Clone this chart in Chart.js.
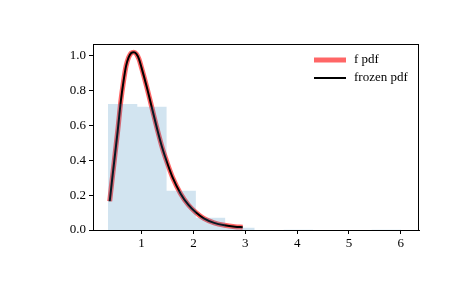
<!DOCTYPE html>
<html lang="en">
<head>
    <meta charset="UTF-8">
    <title>f distribution pdf</title>
    <script src="https://cdn.jsdelivr.net/npm/chart.js@4.4.1/dist/chart.umd.min.js"></script>
    <style>
        body {
            margin: 0;
            background: #fff;
        }
        #chart-container {
            width: 465px;
            height: 288px;
        }
    </style>
</head>
<body>
    <div id="chart-container">
        <canvas id="fChart"></canvas>
    </div>

    <script>
        // pdf curve (x, density)
        const pdfX = [0.385, 0.44, 0.49, 0.54, 0.60, 0.65, 0.70, 0.75, 0.80, 0.85, 0.90, 0.95, 1.00,
                      1.10, 1.20, 1.30, 1.40, 1.50, 1.60, 1.75, 1.90, 2.05, 2.20, 2.40, 2.60, 2.80, 2.95];
        const pdfY = [0.165, 0.31, 0.44, 0.57, 0.74, 0.85, 0.94, 0.99, 1.015, 1.02, 1.01, 0.98, 0.93,
                      0.82, 0.70, 0.58, 0.47, 0.38, 0.30, 0.21, 0.145, 0.10, 0.067, 0.041, 0.027, 0.019, 0.016];

        // histogram bins (edges) and densities
        const binEdges = [0.352, 0.917, 1.482, 2.047, 2.612, 3.177, 3.742, 4.307, 4.872, 5.437, 6.002];
        const binHeights = [0.723, 0.707, 0.225, 0.07, 0.013, 0, 0.0018, 0, 0, 0.0018];

        const xTicks = [1, 2, 3, 4, 5, 6];
        const yTicks = [0, 0.2, 0.4, 0.6, 0.8, 1.0];

        const seriesLabels = ['f pdf', 'frozen pdf'];

        const FONT = { family: '"Liberation Serif", "Times New Roman", serif', size: 13 };

        const pdfPoints = pdfX.map((x, i) => ({ x: x, y: pdfY[i] }));

        // step outline for the stepfilled histogram
        const histPoints = [{ x: binEdges[0], y: 0 }];
        binHeights.forEach((h, i) => histPoints.push({ x: binEdges[i], y: h }));
        histPoints.push({ x: binEdges[binEdges.length - 1], y: 0 });

        const frame = {
            id: 'frame',
            afterDatasetsDraw(chart) {
                const c = chart.ctx;
                const a = chart.chartArea;
                c.save();
                c.strokeStyle = '#000';
                c.lineWidth = 1;
                c.strokeRect(Math.round(a.left) + 0.5, Math.round(a.top) + 0.5,
                             Math.round(a.right - a.left) - 1, Math.round(a.bottom - a.top));
                c.restore();
            }
        };

        const legendBox = {
            id: 'legendBox',
            afterDatasetsDraw(chart) {
                const c = chart.ctx;
                const a = chart.chartArea;
                const x0 = a.right - 105;
                let y = a.top + 16;
                c.save();
                c.font = FONT.size + 'px ' + FONT.family;
                c.textBaseline = 'middle';
                c.fillStyle = '#000';
                chart.data.datasets.forEach(ds => {
                    if (!ds.showInLegend) return;
                    c.strokeStyle = ds.borderColor;
                    c.lineWidth = ds.borderWidth;
                    c.beginPath();
                    c.moveTo(x0, y);
                    c.lineTo(x0 + 32, y);
                    c.stroke();
                    c.fillText(ds.label, x0 + 40, y);
                    y += 18;
                });
                c.restore();
            }
        };

        const ctx = document.getElementById('fChart').getContext('2d');
        new Chart(ctx, {
            type: 'line',
            data: {
                datasets: [
                    {
                        label: 'hist',
                        data: histPoints,
                        stepped: 'before',
                        borderWidth: 0,
                        borderColor: 'rgba(31, 119, 180, 0)',
                        backgroundColor: 'rgba(31, 119, 180, 0.2)',
                        fill: 'origin',
                        pointRadius: 0,
                        order: 0
                    },
                    {
                        label: seriesLabels[1],
                        data: pdfPoints,
                        borderColor: '#000',
                        borderWidth: 2,
                        cubicInterpolationMode: 'monotone',
                        pointRadius: 0,
                        fill: false,
                        showInLegend: true,
                        order: 1
                    },
                    {
                        label: seriesLabels[0],
                        data: pdfPoints,
                        borderColor: 'rgba(255, 0, 0, 0.6)',
                        borderWidth: 5,
                        cubicInterpolationMode: 'monotone',
                        pointRadius: 0,
                        fill: false,
                        showInLegend: true,
                        order: 2
                    }
                ].sort((p, q) => (p.showInLegend ? seriesLabels.indexOf(p.label) : 9) - (q.showInLegend ? seriesLabels.indexOf(q.label) : 9))
            },
            options: {
                responsive: true,
                maintainAspectRatio: false,
                animation: false,
                layout: { padding: { left: 0, top: 44, right: 46, bottom: 0 } },
                plugins: {
                    legend: { display: false },
                    tooltip: { enabled: false }
                },
                scales: {
                    x: {
                        type: 'linear',
                        min: 0.063,
                        max: 6.35,
                        afterBuildTicks: s => { s.ticks = xTicks.map(v => ({ value: v })); },
                        afterFit: s => { s.height = 58; },
                        grid: { drawOnChartArea: false, drawTicks: true, tickLength: 4, color: '#000' },
                        border: { display: true, color: '#000', width: 1 },
                        ticks: { color: '#000', font: FONT, padding: 2, maxRotation: 0, callback: v => String(v) }
                    },
                    y: {
                        type: 'linear',
                        min: 0,
                        max: 1.067,
                        afterBuildTicks: s => { s.ticks = yTicks.map(v => ({ value: v })); },
                        afterFit: s => { s.width = 93; },
                        grid: { drawOnChartArea: false, drawTicks: true, tickLength: 4, color: '#000' },
                        border: { display: true, color: '#000', width: 1 },
                        ticks: { color: '#000', font: FONT, padding: 3, callback: v => v.toFixed(1) }
                    }
                }
            },
            plugins: [frame, legendBox]
        });
    </script>
</body>
</html>
